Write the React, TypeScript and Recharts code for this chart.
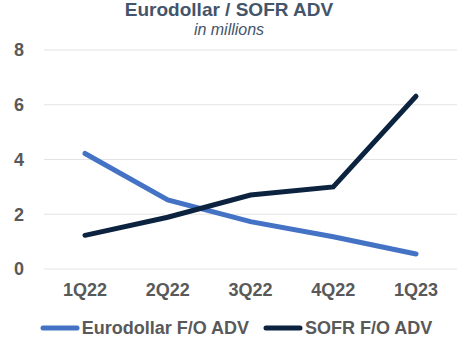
import React from "react";
import { LineChart, Line, XAxis, YAxis, CartesianGrid, Legend } from "recharts";

const quarters = ["1Q22", "2Q22", "3Q22", "4Q22", "1Q23"];
const eurodollar = [4.22, 2.52, 1.73, 1.18, 0.55];
const sofr = [1.23, 1.89, 2.7, 3.0, 6.31];
const yTicks = [0, 2, 4, 6, 8];

const EURO_COLOR = "#4472C4";
const SOFR_COLOR = "#0C2340";
const FONT = "'Liberation Sans', Arial, sans-serif";

const data = quarters.map((q, i) => ({ q, euro: eurodollar[i], sofr: sofr[i] }));

const LegendContent = () => {
  const items = [
    { label: "Eurodollar F/O ADV", color: EURO_COLOR },
    { label: "SOFR F/O ADV", color: SOFR_COLOR },
  ];
  return (
    <div style={{ display: "flex", justifyContent: "center", alignItems: "center", fontFamily: FONT, fontWeight: 700, fontSize: 18, color: "#595959", height: 20 }}>
      {items.map((it, i) => (
        <div key={it.label} style={{ display: "flex", alignItems: "center", marginLeft: i ? 14 : 0 }}>
          <svg width={40} height={8} style={{ marginRight: 2 }}>
            <line x1={3} y1={4} x2={37} y2={4} stroke={it.color} strokeWidth={5} strokeLinecap="round" />
          </svg>
          <span style={{ lineHeight: "20px" }}>{it.label}</span>
        </div>
      ))}
    </div>
  );
};

export default function App() {
  return (
    <div style={{ position: "absolute", left: 0, top: 0, width: 472, height: 359, background: "#fff" }}>
      <div style={{ position: "absolute", left: 0, top: 0, width: 458, textAlign: "center", fontFamily: FONT, fontWeight: 700, fontSize: 19, lineHeight: "19px", color: "#44546A" }}>
        Eurodollar / SOFR ADV
      </div>
      <div style={{ position: "absolute", left: 0, top: 22, width: 458, textAlign: "center", fontFamily: FONT, fontStyle: "italic", fontSize: 16, lineHeight: "16px", color: "#44546A" }}>
        in millions
      </div>
      <LineChart width={472} height={359} data={data} margin={{ top: 50, right: 15, bottom: 30, left: 0 }}>
        <CartesianGrid horizontal vertical={false} stroke="#E3E3E3" strokeWidth={1.2} />
        <XAxis
          dataKey="q"
          axisLine={false}
          tickLine={false}
          tickSize={0}
          tickMargin={14}
          height={40}
          interval={0}
          padding={{ left: 41, right: 41 }}
          tick={{ fill: "#595959", fontSize: 18, fontWeight: 700, fontFamily: FONT }}
        />
        <YAxis
          domain={[0, 8]}
          ticks={yTicks}
          axisLine={false}
          tickLine={false}
          tickSize={0}
          tickMargin={20}
          width={44}
          tick={{ fill: "#595959", fontSize: 18, fontWeight: 700, fontFamily: FONT }}
        />
        <Legend content={<LegendContent />} verticalAlign="bottom" wrapperStyle={{ left: 0, width: 472, top: 318, height: 20 }} />
        <Line type="linear" dataKey="euro" stroke={EURO_COLOR} strokeWidth={5} strokeLinecap="round" dot={false} isAnimationActive={false} />
        <Line type="linear" dataKey="sofr" stroke={SOFR_COLOR} strokeWidth={5} strokeLinecap="round" dot={false} isAnimationActive={false} />
      </LineChart>
    </div>
  );
}
